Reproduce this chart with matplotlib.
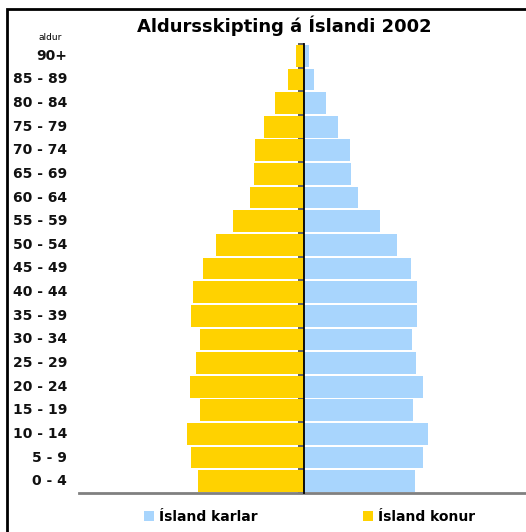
import numpy as np
import matplotlib
matplotlib.use("Agg")
import matplotlib.pyplot as plt
from matplotlib.patches import Rectangle
from matplotlib.transforms import blended_transform_factory

# -----------------------------------------------------------
# DATA (persons)
# -----------------------------------------------------------
age_groups = ["0 - 4", "5 - 9", "10 - 14", "15 - 19", "20 - 24", "25 - 29",
              "30 - 34", "35 - 39", "40 - 44", "45 - 49", "50 - 54", "55 - 59",
              "60 - 64", "65 - 69", "70 - 74", "75 - 79", "80 - 84", "85 - 89", "90+"]

karlar = [10700, 11450, 11900, 10450, 11450, 10750, 10400, 10850, 10850, 10300,
          8900, 7300, 5150, 4500, 4400, 3250, 2050, 900, 420]
konur = [10250, 10930, 11320, 10150, 11030, 10450, 10060, 10930, 10740, 9860,
         8600, 6950, 5240, 4850, 4750, 3880, 2810, 1580, 800]

title = "Aldursskipting á Íslandi 2002"
legend_labels = ["Ísland karlar", "Ísland konur"]

blue = "#A8D5FD"
yellow = "#FFD200"

# -----------------------------------------------------------
# PLOT
# -----------------------------------------------------------
W, H = 526, 532
fig = plt.figure(figsize=(W / 100, H / 100), dpi=100)
plt.rcParams["font.family"] = ["DejaVu Sans"]

ax = fig.add_axes([79 / W, 39 / H, 451 / W, 449 / H])
y = np.arange(len(age_groups))

b_karlar = ax.barh(y, karlar, height=0.92, color=blue, zorder=2)
b_konur = ax.barh(y, -np.array(konur), height=0.92, color=yellow, zorder=2)

ax.set_xlim(-21800, 21800)
ax.set_ylim(-0.5, len(age_groups) - 0.5)

# axis styling
ax.spines["top"].set_visible(False)
ax.spines["right"].set_visible(False)
ax.spines["left"].set_position(("data", 0))
ax.spines["left"].set_linewidth(1.3)
ax.spines["left"].set_zorder(3)
ax.spines["bottom"].set_color("#808080")
ax.spines["bottom"].set_linewidth(2)
ax.set_xticks([])
ax.set_yticks(np.arange(len(age_groups) + 1) - 0.5)
ax.set_yticklabels([])
ax.tick_params(axis="y", direction="out", length=4, width=1.3, color="#555555")

# category labels at far left
trans = blended_transform_factory(fig.transFigure, ax.transData)
for yi, lab in zip(y, age_groups):
    ax.text(67 / W, yi, lab, transform=trans, ha="right", va="center",
            fontsize=10, fontweight="bold", color="#111111")

fig.text(50 / W, 1 - 37 / H, "aldur", ha="center", va="center", fontsize=6.5)
fig.text(284 / W, 1 - 26 / H, title, ha="center", va="center",
         fontsize=13, fontweight="bold")

fig.legend([b_karlar, b_konur], legend_labels, loc="center left",
           bbox_to_anchor=(131 / W, 1 - 517 / H), ncol=2, frameon=False,
           prop={"weight": "bold", "size": 10}, handlelength=0.75,
           handleheight=0.75, handletextpad=0.35, columnspacing=7.6)

# outer frame (left and top edges visible)
fig.patches.append(Rectangle((7 / W, -0.1), 1.2, 1 - 9 / H + 0.1,
                             transform=fig.transFigure, fill=False,
                             edgecolor="black", linewidth=2))

fig.savefig("out.png", dpi=100)
